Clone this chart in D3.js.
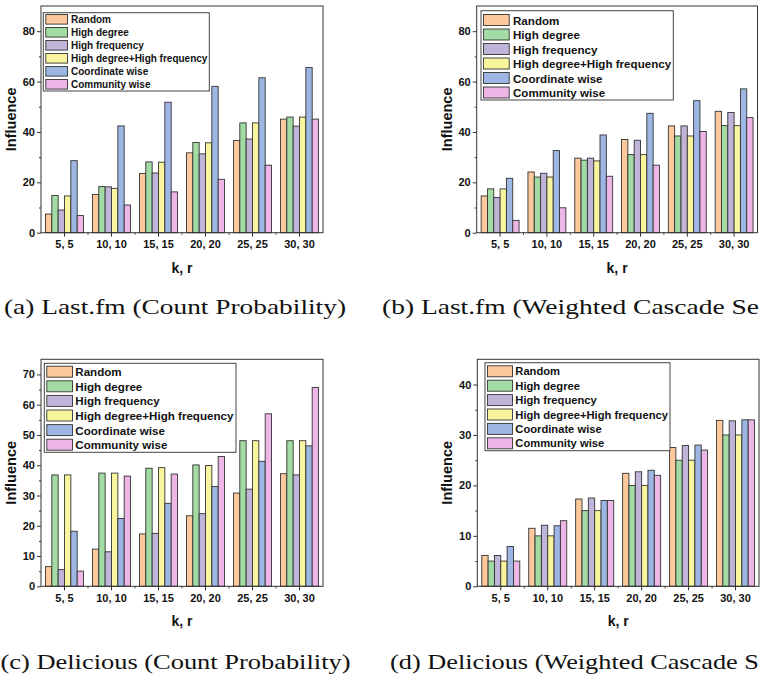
<!DOCTYPE html>
<html>
<head>
<meta charset="utf-8">
<script src="https://cdn.jsdelivr.net/npm/d3@7/dist/d3.min.js"></script>
<style>
  html, body { margin: 0; padding: 0; background: #fff; }
  svg { display: block; }
</style>
</head>
<body>
<svg id="chart" width="760" height="676"></svg>
<script>
// ---------------- DATA ----------------
const categories = ["5, 5", "10, 10", "15, 15", "20, 20", "25, 25", "30, 30"];
const seriesNames = ["Random", "High degree", "High frequency", "High degree+High frequency", "Coordinate wise", "Community wise"];

// (a) Last.fm (Count Probability)
const lastfmCountRandom     = [7.4, 15.2, 23.5, 31.7, 36.6, 45.1];
const lastfmCountHighDeg    = [14.8, 18.3, 28.1, 35.8, 43.6, 45.9];
const lastfmCountHighFreq   = [9.0, 18.2, 23.7, 31.3, 37.2, 42.3];
const lastfmCountDegFreq    = [14.6, 17.6, 28.0, 35.7, 43.6, 45.9];
const lastfmCountCoord      = [28.6, 42.4, 51.8, 58.1, 61.5, 65.6];
const lastfmCountCommunity  = [6.8, 11.0, 16.2, 21.2, 26.8, 45.1];

// (b) Last.fm (Weighted Cascade)
const lastfmWCRandom    = [14.6, 24.1, 29.6, 37.0, 42.4, 48.2];
const lastfmWCHighDeg   = [17.4, 22.1, 28.8, 31.0, 38.4, 42.5];
const lastfmWCHighFreq  = [14.0, 23.6, 29.6, 36.7, 42.4, 47.7];
const lastfmWCDegFreq   = [17.4, 22.1, 28.5, 31.0, 38.4, 42.5];
const lastfmWCCoord     = [21.6, 32.6, 38.8, 47.4, 52.4, 57.1];
const lastfmWCCommunity = [4.9, 9.9, 22.4, 26.8, 40.2, 45.7];

// (c) Delicious (Count Probability)
const deliciousCountRandom    = [6.5, 12.3, 17.3, 23.3, 30.8, 37.2];
const deliciousCountHighDeg   = [36.8, 37.4, 39.0, 40.1, 48.1, 48.1];
const deliciousCountHighFreq  = [5.5, 11.4, 17.5, 24.0, 32.1, 36.8];
const deliciousCountDegFreq   = [36.8, 37.4, 39.2, 39.9, 48.1, 48.1];
const deliciousCountCoord     = [18.2, 22.4, 27.4, 33.0, 41.3, 46.4];
const deliciousCountCommunity = [5.0, 36.4, 37.1, 42.9, 57.0, 65.7];

// (d) Delicious (Weighted Cascade)
const deliciousWCRandom    = [6.1, 11.5, 17.3, 22.4, 27.5, 32.9];
const deliciousWCHighDeg   = [5.0, 10.0, 15.0, 20.0, 25.0, 30.0];
const deliciousWCHighFreq  = [6.1, 12.1, 17.5, 22.7, 27.9, 32.8];
const deliciousWCDegFreq   = [5.0, 10.0, 15.0, 20.0, 25.0, 30.0];
const deliciousWCCoord     = [7.9, 12.0, 17.0, 23.0, 28.0, 33.0];
const deliciousWCCommunity = [5.0, 13.0, 17.0, 22.0, 27.0, 33.0];

const ticksLastfm = [0, 20, 40, 60, 80];
const minorLastfm = [10, 30, 50, 70];
const ticksDelCount = [0, 10, 20, 30, 40, 50, 60, 70];
const minorDelCount = [5, 15, 25, 35, 45, 55, 65];
const ticksDelWC = [0, 10, 20, 30, 40];
const minorDelWC = [5, 15, 25, 35];

// captions as visible in the (cropped) figure
const captionA = "(a) Last.fm (Count Probability)";
const captionB = "(b) Last.fm (Weighted Cascade Se";
const captionC = "(c) Delicious (Count Probability)";
const captionD = "(d) Delicious (Weighted Cascade S";

// ---------------- STYLE / LAYOUT ----------------
const colors = ["#FDC89B", "#A2DBA3", "#C1B4D9", "#F9F59E", "#9EB6E3", "#EDB6E7"];

const panels = [
  { series: [lastfmCountRandom, lastfmCountHighDeg, lastfmCountHighFreq, lastfmCountDegFreq, lastfmCountCoord, lastfmCountCommunity],
    left: 41, right: 323, top: 6, bottom: 232.7, yMax: 90, ticks: ticksLastfm, minor: minorLastfm,
    lg: { x: 43.3, y: 12.7, w: 166, h: 78.3, first: 6.6, row: 13, font: 10, sw: 21.7, sh: 9.6, tx: 71 },
    caption: captionA, capX: 4, capLen: 342, capY: 306 },
  { series: [lastfmWCRandom, lastfmWCHighDeg, lastfmWCHighFreq, lastfmWCDegFreq, lastfmWCCoord, lastfmWCCommunity],
    left: 476.7, right: 757.5, top: 6, bottom: 232.7, yMax: 90, ticks: ticksLastfm, minor: minorLastfm,
    lg: { x: 481, y: 10.7, w: 192.3, h: 89.3, first: 9.3, row: 14.5, font: 11.6, sw: 25.7, sh: 11, tx: 513 },
    caption: captionB, capX: 382, capLen: 377, capY: 306 },
  { series: [deliciousCountRandom, deliciousCountHighDeg, deliciousCountHighFreq, deliciousCountDegFreq, deliciousCountCoord, deliciousCountCommunity],
    left: 41, right: 323, top: 359.3, bottom: 586.3, yMax: 75, ticks: ticksDelCount, minor: minorDelCount,
    lg: { x: 44.3, y: 363.3, w: 191.7, h: 89, first: 8.4, row: 14.6, font: 11.6, sw: 25.7, sh: 11, tx: 75.3 },
    caption: captionC, capX: 0.5, capLen: 350, capY: 661 },
  { series: [deliciousWCRandom, deliciousWCHighDeg, deliciousWCHighFreq, deliciousWCDegFreq, deliciousWCCoord, deliciousWCCommunity],
    left: 477.3, right: 759, top: 359.3, bottom: 586.3, yMax: 45, ticks: ticksDelWC, minor: minorDelWC,
    lg: { x: 485, y: 362.7, w: 185, h: 88, first: 8.6, row: 14.4, font: 11.2, sw: 25, sh: 11, tx: 515.3 },
    caption: captionD, capX: 390, capLen: 369, capY: 661 }
];

const svg = d3.select("#chart");
const sansBold = "'Liberation Sans', Arial, sans-serif";
const axisColor = "#333";

panels.forEach(p => {
  const g = svg.append("g");
  const x = d3.scaleBand().domain(categories).range([p.left, p.right]).paddingInner(0.19).paddingOuter(0.095);
  const xs = d3.scaleBand().domain(seriesNames).range([0, x.bandwidth()]);
  const y = d3.scaleLinear().domain([0, p.yMax]).range([p.bottom, p.top]);

  // bars
  seriesNames.forEach((name, si) => {
    g.append("g").selectAll("rect").data(p.series[si]).join("rect")
      .attr("x", (d, i) => x(categories[i]) + xs(name))
      .attr("y", d => y(d))
      .attr("width", xs.bandwidth())
      .attr("height", d => y(0) - y(d))
      .attr("fill", colors[si])
      .attr("stroke", "#333")
      .attr("stroke-width", 0.9);
  });

  // y axis major
  const ya = g.append("g").attr("transform", `translate(${p.left},0)`)
    .call(d3.axisLeft(y).tickValues(p.ticks).tickSize(4).tickPadding(2).tickFormat(d3.format("d")));
  ya.select(".domain").remove();
  ya.selectAll("line").attr("stroke", axisColor);
  ya.selectAll("text").attr("font-family", sansBold).attr("font-weight", "bold").attr("font-size", 11).attr("fill", "#111");
  // y axis minor
  const ym = g.append("g").attr("transform", `translate(${p.left},0)`)
    .call(d3.axisLeft(y).tickValues(p.minor).tickSize(2).tickFormat(""));
  ym.select(".domain").remove();
  ym.selectAll("line").attr("stroke", axisColor);

  // x axis major
  const xa = g.append("g").attr("transform", `translate(0,${p.bottom})`)
    .call(d3.axisBottom(x).tickSize(4).tickPadding(4));
  xa.select(".domain").remove();
  xa.selectAll("line").attr("stroke", axisColor);
  xa.selectAll("text").attr("font-family", sansBold).attr("font-weight", "bold").attr("font-size", 11).attr("fill", "#111");
  // x minor ticks at band boundaries
  const half = x.step() / 2;
  const bounds = categories.map(c => x(c) + x.bandwidth() / 2 + half);
  g.append("g").selectAll("line").data(bounds.slice(0, -1)).join("line")
    .attr("x1", d => d).attr("x2", d => d)
    .attr("y1", p.bottom).attr("y2", p.bottom + 2)
    .attr("stroke", axisColor);

  // frame
  g.append("rect").attr("x", p.left).attr("y", p.top)
    .attr("width", p.right - p.left).attr("height", p.bottom - p.top)
    .attr("fill", "none").attr("stroke", axisColor).attr("stroke-width", 1);

  // axis titles
  g.append("text").attr("x", (p.left + p.right) / 2).attr("y", p.bottom + 35)
    .attr("text-anchor", "middle").attr("dominant-baseline", "central")
    .attr("font-family", sansBold).attr("font-weight", "bold").attr("font-size", 14).attr("fill", "#111")
    .text("k, r");
  const yl = p.left - 30;
  const ym2 = (p.top + p.bottom) / 2;
  g.append("text").attr("transform", `translate(${yl},${ym2}) rotate(-90)`)
    .attr("text-anchor", "middle").attr("dominant-baseline", "central")
    .attr("font-family", sansBold).attr("font-weight", "bold").attr("font-size", 14.5).attr("fill", "#111")
    .text("Influence");

  // legend
  const L = p.lg;
  const lg = g.append("g");
  lg.append("rect").attr("x", L.x).attr("y", L.y).attr("width", L.w).attr("height", L.h)
    .attr("fill", "#fff").attr("stroke", "#444").attr("stroke-width", 1);
  seriesNames.forEach((name, si) => {
    const cy = L.y + L.first + si * L.row;
    lg.append("rect").attr("x", L.x + 2.5).attr("y", cy - L.sh / 2)
      .attr("width", L.sw).attr("height", L.sh)
      .attr("fill", colors[si]).attr("stroke", "#333").attr("stroke-width", 0.9);
    lg.append("text").attr("x", L.tx).attr("y", cy)
      .attr("dominant-baseline", "central")
      .attr("font-family", sansBold).attr("font-weight", "bold").attr("font-size", L.font).attr("fill", "#111")
      .text(name);
  });
});

// captions (serif, LaTeX-like)
const capFont = "'Liberation Serif', 'Times New Roman', serif";
panels.forEach(p => {
  svg.append("text")
    .attr("x", p.capX).attr("y", p.capY)
    .attr("dominant-baseline", "central")
    .attr("font-family", capFont).attr("font-size", 22).attr("fill", "#111")
    .attr("textLength", p.capLen).attr("lengthAdjust", "spacingAndGlyphs")
    .text(p.caption);
});
</script>
</body>
</html>
